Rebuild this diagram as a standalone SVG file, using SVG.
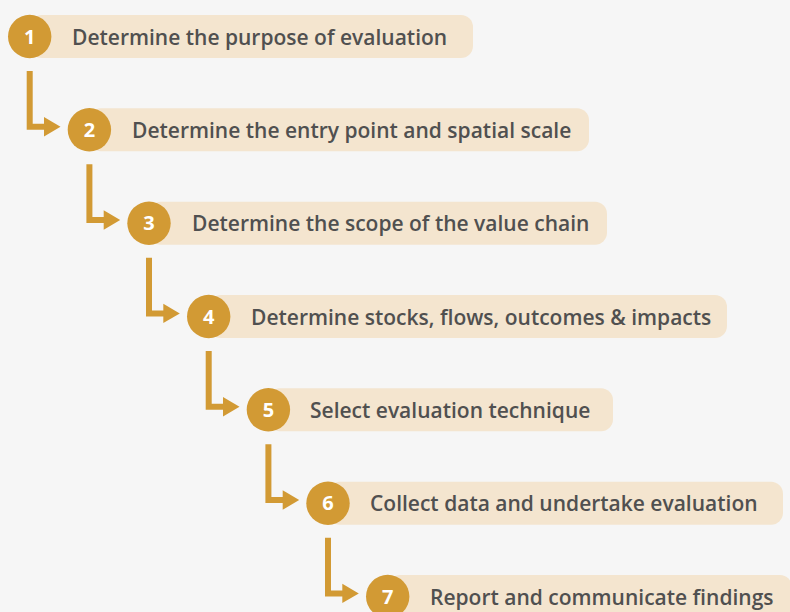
<svg xmlns="http://www.w3.org/2000/svg" width="790" height="612" viewBox="0 0 790 612">
<style>
.box{fill:#F4E5CF}
.num{fill:#D29A34}
.nt{font-family:"Open Sans","Liberation Sans",sans-serif;font-weight:700;font-size:20px;fill:#FFFFFF;text-anchor:middle}
.lbl{font-family:"Open Sans","Liberation Sans",sans-serif;font-weight:600;font-size:21px;fill:#505050}
.conn{fill:none;stroke:#D29A34;stroke-width:6;stroke-linejoin:miter}
.head{fill:#D29A34}
</style>
<rect width="790" height="612" fill="#F6F6F6"/>
<g id="connectors">
<path class="conn" d="M29.7 71V126.7H45"/><polygon class="head" points="44,117 60.5,126.7 44,136.4"/>
<path class="conn" d="M89.4 164.3V220H104.7"/><polygon class="head" points="103.7,210.3 120.2,220 103.7,229.7"/>
<path class="conn" d="M149 257.7V313.4H164.3"/><polygon class="head" points="163.3,303.7 179.8,313.4 163.3,323.1"/>
<path class="conn" d="M208.7 351V406.7H224"/><polygon class="head" points="223,397 239.5,406.7 223,416.4"/>
<path class="conn" d="M268.4 444.3V500H283.7"/><polygon class="head" points="282.7,490.3 299.2,500 282.7,509.7"/>
<path class="conn" d="M328 537.7V593.4H343.3"/><polygon class="head" points="342.3,583.7 358.8,593.4 342.3,603.1"/>
</g>
<g id="node1">
<rect class="box" x="30" y="15" width="443" height="43" rx="12"/>
<circle class="num" cx="29.7" cy="36.5" r="21.7"/>
<text class="nt" x="29.7" y="43.5">1</text>
<text class="lbl" x="72" y="44.5">Determine the purpose of evaluation</text>
</g>
<g id="node2">
<rect class="box" x="89" y="108.3" width="500" height="43" rx="12"/>
<circle class="num" cx="89.4" cy="129.8" r="21.7"/>
<text class="nt" x="89.4" y="136.8">2</text>
<text class="lbl" x="132" y="137.8">Determine the entry point and spatial scale</text>
</g>
<g id="node3">
<rect class="box" x="149" y="201.7" width="458" height="43" rx="12"/>
<circle class="num" cx="149" cy="223.2" r="21.7"/>
<text class="nt" x="149" y="230.2">3</text>
<text class="lbl" x="192" y="231.2">Determine the scope of the value chain</text>
</g>
<g id="node4">
<rect class="box" x="209" y="295" width="518" height="43" rx="12"/>
<circle class="num" cx="208.7" cy="316.5" r="21.7"/>
<text class="nt" x="208.7" y="323.5">4</text>
<text class="lbl" x="251" y="324.5">Determine stocks, flows, outcomes &amp; impacts</text>
</g>
<g id="node5">
<rect class="box" x="268" y="388.3" width="345" height="43" rx="12"/>
<circle class="num" cx="268.4" cy="409.8" r="21.7"/>
<text class="nt" x="268.4" y="416.8">5</text>
<text class="lbl" x="310" y="417.8">Select evaluation technique</text>
</g>
<g id="node6">
<rect class="box" x="328" y="481.7" width="455" height="43" rx="12"/>
<circle class="num" cx="328" cy="503.2" r="21.7"/>
<text class="nt" x="328" y="510.2">6</text>
<text class="lbl" x="370" y="511.2">Collect data and undertake evaluation</text>
</g>
<g id="node7">
<rect class="box" x="388" y="575" width="404" height="43" rx="12"/>
<circle class="num" cx="387.7" cy="596.5" r="21.7"/>
<text class="nt" x="387.7" y="603.5">7</text>
<text class="lbl" x="430" y="604.5">Report and communicate findings</text>
</g>
</svg>
